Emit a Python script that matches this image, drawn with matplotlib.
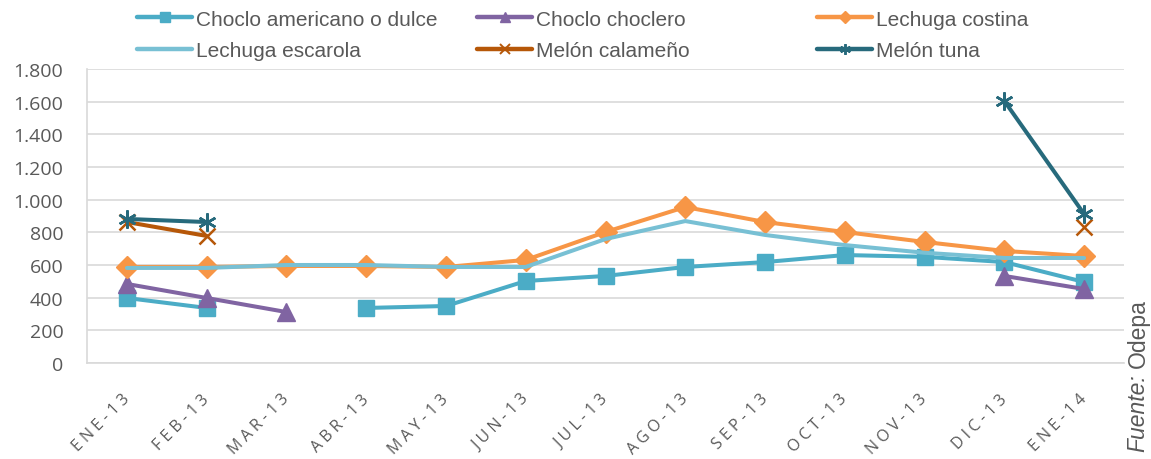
import numpy as np
import matplotlib
matplotlib.use("Agg")
import matplotlib.pyplot as plt
from matplotlib.ticker import FuncFormatter, MultipleLocator
from matplotlib.lines import Line2D

plt.rcParams['font.family'] = ['Liberation Sans', 'DejaVu Sans']

months = ["ENE-13", "FEB-13", "MAR-13", "ABR-13", "MAY-13", "JUN-13", "JUL-13",
          "AGO-13", "SEP-13", "OCT-13", "NOV-13", "DIC-13", "ENE-14"]
nan = np.nan
choclo_americano = [398, 337, nan, 337, 349, 502, 533, 588, 618, 661, 650, 618, 496]
choclo_choclero = [484, 398, 312, nan, nan, nan, nan, nan, nan, nan, nan, 533, 453]
lechuga_costina = [588, 588, 594, 594, 588, 631, 802, 955, 863, 802, 741, 686, 655]
lechuga_escarola = [582, 582, 600, 600, 588, 588, 759, 869, 784, 722, 675, 643, 643]
melon_calameno = [863, 778, nan, nan, nan, nan, nan, nan, nan, nan, nan, nan, 833]
melon_tuna = [882, 863, nan, nan, nan, nan, nan, nan, nan, nan, nan, 1604, 912]

series = [
    ("Choclo americano o dulce", choclo_americano, "#4BACC6", "s", 12),
    ("Choclo choclero", choclo_choclero, "#8064A2", "^", 12.5),
    ("Lechuga costina", lechuga_costina, "#F79646", "D", 11),
    ("Lechuga escarola", lechuga_escarola, "#78C0D4", None, 0),
    ("Melón calameño", melon_calameno, "#B65708", "x", 11),
    ("Melón tuna", melon_tuna, "#276A7C", (6, 2, 0), 13),
]

fig = plt.figure(figsize=(11.51, 4.60), dpi=100)
ax = fig.add_axes([87 / 1151, 1 - 364 / 460, (1124 - 87) / 1151, (364 - 70) / 460])

x = np.arange(len(months))
handles = []
for name, vals, col, mk, ms in series:
    ax.plot(x, vals, color=col, lw=2.9, marker=mk, markersize=ms,
            markeredgewidth=1.8 if mk in ("x", (6, 2, 0)) else 1.0,
            markeredgecolor=col, markerfacecolor=col,
            solid_joinstyle='round', solid_capstyle='round')
    handles.append(Line2D([], [], color=col, lw=3.2, marker=mk,
                          markersize=ms * 0.6 if mk else 0,
                          markeredgewidth=1.4 if mk in ("x", (6, 2, 0)) else 1.0,
                          markeredgecolor=col, markerfacecolor=col,
                          solid_capstyle='round', label=name))

ax.set_xlim(-0.5, len(months) - 0.5)
ax.set_ylim(0, 1800)
ax.yaxis.set_major_locator(MultipleLocator(200))
ax.yaxis.set_major_formatter(FuncFormatter(lambda v, p: f"{int(v):,}".replace(",", ".")))
ax.grid(axis='y', color='#D9D9D9', lw=1.2)
ax.set_axisbelow(True)
for s in ['top', 'right']:
    ax.spines[s].set_visible(False)
for s in ['left', 'bottom']:
    ax.spines[s].set_color('#D9D9D9')
    ax.spines[s].set_linewidth(1.2)
ax.tick_params(axis='both', length=0, colors='#595959')
ax.tick_params(axis='y', pad=17, labelsize=14, labelfontfamily='Open Sans')

ax.set_xticks(x)
spaced = [" ".join(list(m)) for m in months]
ax.set_xticklabels(spaced, rotation=45, ha='right', va='center',
                   rotation_mode='anchor', fontsize=11.5, color='#595959',
                   family=['Open Sans', 'DejaVu Sans'])
ax.tick_params(axis='x', pad=24)

# legend: three columns, row-wise order
col_x = [137, 477, 817]
for i, cx in enumerate(col_x):
    hs = [handles[i], handles[i + 3]]
    lg = fig.legend(handles=hs, loc='center left',
                    bbox_to_anchor=(cx / 1151, 1 - 36 / 460), frameon=False,
                    fontsize=15, handlelength=2.65, handletextpad=0.2,
                    labelspacing=0.6, borderpad=0, borderaxespad=0)
    for t in lg.get_texts():
        t.set_color('#595959')

fig.text(1138 / 1151, 1 - 452 / 460, "Fuente:", rotation=90, ha='center', va='bottom',
         fontsize=16.5, color='#595959', style='italic')
fig.text(1138 / 1151, 1 - 368 / 460, "Odepa", rotation=90, ha='center', va='bottom',
         fontsize=16.5, color='#595959')

fig.savefig("out.png", dpi=100)
